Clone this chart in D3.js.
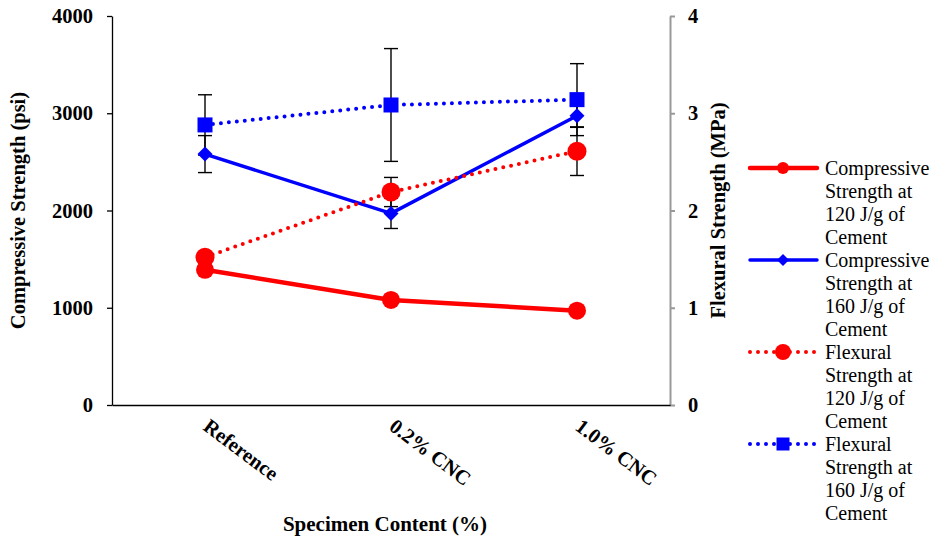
<!DOCTYPE html>
<html><head><meta charset="utf-8">
<script src="https://cdn.jsdelivr.net/npm/d3@7"></script>
<style>body{margin:0;background:#fff}svg{display:block}
svg text{font-family:"Liberation Serif","Times New Roman","DejaVu Serif",serif !important;}</style>
</head><body>
<svg id="c" width="947" height="544"></svg>
<script>
const categories = ["Reference", "0.2% CNC", "1.0% CNC"];
const comp120 = [1390, 1080, 970];
const comp160 = [2580, 1970, 2975];
const comp160Err = [190, 155, 120];
const flex120 = [1.52, 2.19, 2.61];
const flex120Err = [0.05, 0.15, 0.25];
const flex160 = [2.88, 3.085, 3.14];
const flex160Err = [0.31, 0.58, 0.37];
const leftTicks = [0, 1000, 2000, 3000, 4000];
const rightTicks = [0, 1, 2, 3, 4];
const legendLabels = [
  ["Compressive", "Strength at", "120 J/g of", "Cement"],
  ["Compressive", "Strength at", "160 J/g of", "Cement"],
  ["Flexural", "Strength at", "120 J/g of", "Cement"],
  ["Flexural", "Strength at", "160 J/g of", "Cement"]
];

const svg = d3.select("#c");
const L = 112, R = 670, T = 16, B = 405;
const x = d3.scaleBand().domain(categories).range([L, R]);
const cx = c => x(c) + x.bandwidth() / 2;
const yL = d3.scaleLinear().domain([0, 4000]).range([B, T]);
const yR = d3.scaleLinear().domain([0, 4]).range([B, T]);

// left axis
const gL = svg.append("g").attr("transform", `translate(${L},0)`)
  .call(d3.axisLeft(yL).tickValues(leftTicks).tickFormat(d3.format("d")).tickSize(5).tickSizeOuter(0).tickPadding(14));
gL.select(".domain").attr("stroke", "#000").attr("stroke-width", 1.3);
gL.selectAll(".tick line").attr("stroke", "#000").attr("stroke-width", 1.3);
gL.selectAll("text").attr("font-size", 20.5).attr("font-weight", "bold").attr("fill", "#000");

// right axis
const gR = svg.append("g").attr("transform", `translate(${R},0)`)
  .call(d3.axisRight(yR).tickValues(rightTicks).tickFormat(d3.format("d")).tickSize(5).tickSizeOuter(0).tickPadding(13));
gR.select(".domain").attr("stroke", "#999").attr("stroke-width", 2);
gR.selectAll(".tick line").attr("stroke", "#999").attr("stroke-width", 2);
gR.selectAll("text").attr("font-size", 20.5).attr("font-weight", "bold").attr("fill", "#000");

// bottom axis
const gB = svg.append("g").attr("transform", `translate(0,${B})`)
  .call(d3.axisBottom(x).tickSize(0).tickSizeOuter(0).tickPadding(0));
gB.select(".domain").attr("stroke", "#000").attr("stroke-width", 1.3);
gB.selectAll(".tick text")
  .attr("font-size", 20.5).attr("font-weight", "bold").attr("fill", "#000")
  .attr("text-anchor", "start").attr("dy", null).attr("y", 0)
  .attr("transform", "translate(-3,24) rotate(37)");

// titles
svg.append("text").attr("transform", `translate(25,${(T + B) / 2}) rotate(-90)`)
  .attr("text-anchor", "middle").attr("font-size", 20.5).attr("font-weight", "bold")
  .text("Compressive Strength (psi)");
svg.append("text").attr("transform", `translate(725,${(T + B) / 2}) rotate(-90)`)
  .attr("text-anchor", "middle").attr("font-size", 20.5).attr("font-weight", "bold")
  .text("Flexural Strength (MPa)");
svg.append("text").attr("x", 385).attr("y", 531)
  .attr("text-anchor", "middle").attr("font-size", 21).attr("font-weight", "bold")
  .text("Specimen Content (%)");

// error bars
function errBars(vals, errs, y) {
  const g = svg.append("g").attr("stroke", "#000").attr("stroke-width", 1.4);
  categories.forEach((c, i) => {
    const X = cx(c), y1 = y(vals[i] - errs[i]), y2 = y(vals[i] + errs[i]);
    g.append("line").attr("x1", X).attr("x2", X).attr("y1", y1).attr("y2", y2);
    g.append("line").attr("x1", X - 7).attr("x2", X + 7).attr("y1", y1).attr("y2", y1);
    g.append("line").attr("x1", X - 7).attr("x2", X + 7).attr("y1", y2).attr("y2", y2);
  });
}
errBars(comp160, comp160Err, yL);
errBars(flex120, flex120Err, yR);
errBars(flex160, flex160Err, yR);

const series = [
  { vals: comp120, y: yL, color: "#ff0000", dash: null, w: 4.5, marker: "circle", size: 9, lsize: 6 },
  { vals: comp160, y: yL, color: "#0000ff", dash: null, w: 3.5, marker: "diamond", size: 7.5, lsize: 6 },
  { vals: flex120, y: yR, color: "#ff0000", dash: "0,8", w: 4, marker: "circle", size: 9.5, lsize: 8 },
  { vals: flex160, y: yR, color: "#0000ff", dash: "0,8", w: 4, marker: "square", size: 7.5, lsize: 6.5 }
];

function drawMarker(g, type, X, Y, s, color) {
  if (type === "circle") g.append("circle").attr("cx", X).attr("cy", Y).attr("r", s).attr("fill", color);
  else if (type === "diamond") g.append("path").attr("d", `M${X},${Y - s}L${X + s},${Y}L${X},${Y + s}L${X - s},${Y}Z`).attr("fill", color);
  else g.append("rect").attr("x", X - s).attr("y", Y - s).attr("width", 2 * s).attr("height", 2 * s).attr("fill", color);
}

const line = (ys) => d3.line().x((d, i) => cx(categories[i])).y(d => ys(d));
series.forEach(s => {
  const p = svg.append("path").datum(s.vals).attr("d", line(s.y)).attr("fill", "none")
    .attr("stroke", s.color).attr("stroke-width", s.w).attr("stroke-linecap", "round").attr("stroke-linejoin", "round");
  if (s.dash) p.attr("stroke-dasharray", s.dash);
});
series.forEach(s => {
  const g = svg.append("g");
  s.vals.forEach((v, i) => drawMarker(g, s.marker, cx(categories[i]), s.y(v), s.size, s.color));
});

// legend
const legY = [168, 260, 352, 444];
series.forEach((s, k) => {
  const g = svg.append("g");
  const Y = legY[k];
  const l = g.append("line").attr("x1", 750).attr("x2", 817).attr("y1", Y).attr("y2", Y)
    .attr("stroke", s.color).attr("stroke-width", s.w).attr("stroke-linecap", "round");
  if (s.dash) l.attr("stroke-dasharray", s.dash);
  drawMarker(g, s.marker, 783, Y, s.lsize, s.color);
  const t = g.append("text").attr("x", 825).attr("y", Y + 7).attr("font-size", 20).attr("fill", "#000");
  legendLabels[k].forEach((ln, j) => t.append("tspan").attr("x", 825).attr("dy", j === 0 ? 0 : 23).text(ln));
});
</script>
</body></html>
